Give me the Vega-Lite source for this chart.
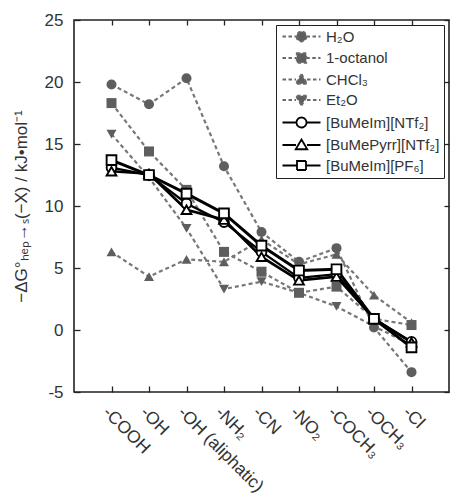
{
  "$schema": "https://vega.github.io/schema/vega-lite/v6.json",
  "width": 375,
  "height": 372,
  "autosize": {"type": "none"},
  "padding": {"left": 74, "top": 20, "right": 1, "bottom": 102},
  "background": "white",
  "config": {
    "view": {"stroke": "#222", "strokeWidth": 1.6},
    "font": "Liberation Sans",
    "axis": {"domain": false, "grid": false, "tickColor": "#222", "tickWidth": 1.3, "labelColor": "#333", "titleColor": "#333", "labelFont": "Liberation Sans", "titleFont": "Liberation Sans"},
    "legend": {"orient": "none", "legendX": 202, "legendY": 5, "strokeColor": "#222", "fillColor": "white", "padding": 4, "rowPadding": 3.5,
      "labelFontSize": 15, "labelColor": "#333", "labelFont": "Liberation Sans", "symbolSize": 100, "symbolOpacity": 1, "labelOffset": 31, "symbolOffset": 0}
  },
  "data": {
    "values": [
      {"group": "-COOH", "series": "H₂O", "value": 19.8},
      {"group": "-OH", "series": "H₂O", "value": 18.2},
      {"group": "-OH (aliphatic)", "series": "H₂O", "value": 20.3},
      {"group": "-NH₂", "series": "H₂O", "value": 13.2},
      {"group": "-CN", "series": "H₂O", "value": 7.9},
      {"group": "-NO₂", "series": "H₂O", "value": 5.5},
      {"group": "-COCH₃", "series": "H₂O", "value": 6.6},
      {"group": "-OCH₃", "series": "H₂O", "value": 0.2},
      {"group": "-Cl", "series": "H₂O", "value": -3.4},
      {"group": "-COOH", "series": "1-octanol", "value": 18.3},
      {"group": "-OH", "series": "1-octanol", "value": 14.4},
      {"group": "-OH (aliphatic)", "series": "1-octanol", "value": 11.3},
      {"group": "-NH₂", "series": "1-octanol", "value": 6.3},
      {"group": "-CN", "series": "1-octanol", "value": 4.7},
      {"group": "-NO₂", "series": "1-octanol", "value": 3.0},
      {"group": "-COCH₃", "series": "1-octanol", "value": 3.5},
      {"group": "-OCH₃", "series": "1-octanol", "value": 0.9},
      {"group": "-Cl", "series": "1-octanol", "value": 0.4},
      {"group": "-COOH", "series": "CHCl₃", "value": 6.3},
      {"group": "-OH", "series": "CHCl₃", "value": 4.3},
      {"group": "-OH (aliphatic)", "series": "CHCl₃", "value": 5.7},
      {"group": "-NH₂", "series": "CHCl₃", "value": 5.5},
      {"group": "-CN", "series": "CHCl₃", "value": 7.3},
      {"group": "-NO₂", "series": "CHCl₃", "value": 5.3},
      {"group": "-COCH₃", "series": "CHCl₃", "value": 6.1},
      {"group": "-OCH₃", "series": "CHCl₃", "value": 2.8},
      {"group": "-Cl", "series": "CHCl₃", "value": 0.6},
      {"group": "-COOH", "series": "Et₂O", "value": 15.8},
      {"group": "-OH", "series": "Et₂O", "value": 12.3},
      {"group": "-OH (aliphatic)", "series": "Et₂O", "value": 8.2},
      {"group": "-NH₂", "series": "Et₂O", "value": 3.3},
      {"group": "-CN", "series": "Et₂O", "value": 3.9},
      {"group": "-NO₂", "series": "Et₂O", "value": 3.0},
      {"group": "-COCH₃", "series": "Et₂O", "value": 1.9},
      {"group": "-OCH₃", "series": "Et₂O", "value": 0.3},
      {"group": "-Cl", "series": "Et₂O", "value": -1.2},
      {"group": "-COOH", "series": "[BuMeIm][NTf₂]", "value": 13.1},
      {"group": "-OH", "series": "[BuMeIm][NTf₂]", "value": 12.5},
      {"group": "-OH (aliphatic)", "series": "[BuMeIm][NTf₂]", "value": 10.2},
      {"group": "-NH₂", "series": "[BuMeIm][NTf₂]", "value": 8.7},
      {"group": "-CN", "series": "[BuMeIm][NTf₂]", "value": 6.3},
      {"group": "-NO₂", "series": "[BuMeIm][NTf₂]", "value": 4.2},
      {"group": "-COCH₃", "series": "[BuMeIm][NTf₂]", "value": 4.5},
      {"group": "-OCH₃", "series": "[BuMeIm][NTf₂]", "value": 0.9},
      {"group": "-Cl", "series": "[BuMeIm][NTf₂]", "value": -0.95},
      {"group": "-COOH", "series": "[BuMePyrr][NTf₂]", "value": 12.8},
      {"group": "-OH", "series": "[BuMePyrr][NTf₂]", "value": 12.6},
      {"group": "-OH (aliphatic)", "series": "[BuMePyrr][NTf₂]", "value": 9.7},
      {"group": "-NH₂", "series": "[BuMePyrr][NTf₂]", "value": 8.9},
      {"group": "-CN", "series": "[BuMePyrr][NTf₂]", "value": 5.9},
      {"group": "-NO₂", "series": "[BuMePyrr][NTf₂]", "value": 4.0},
      {"group": "-COCH₃", "series": "[BuMePyrr][NTf₂]", "value": 4.3},
      {"group": "-OCH₃", "series": "[BuMePyrr][NTf₂]", "value": 0.9},
      {"group": "-Cl", "series": "[BuMePyrr][NTf₂]", "value": -1.0},
      {"group": "-COOH", "series": "[BuMeIm][PF₆]", "value": 13.7},
      {"group": "-OH", "series": "[BuMeIm][PF₆]", "value": 12.5},
      {"group": "-OH (aliphatic)", "series": "[BuMeIm][PF₆]", "value": 11.0},
      {"group": "-NH₂", "series": "[BuMeIm][PF₆]", "value": 9.4},
      {"group": "-CN", "series": "[BuMeIm][PF₆]", "value": 6.8},
      {"group": "-NO₂", "series": "[BuMeIm][PF₆]", "value": 4.8},
      {"group": "-COCH₃", "series": "[BuMeIm][PF₆]", "value": 4.9},
      {"group": "-OCH₃", "series": "[BuMeIm][PF₆]", "value": 0.9},
      {"group": "-Cl", "series": "[BuMeIm][PF₆]", "value": -1.4}
    ]
  },
  "encoding": {
    "x": {"field": "group", "type": "ordinal", "sort": null,
      "scale": {"type": "point", "padding": 1}, "axis": null},
    "y": {"field": "value", "type": "quantitative",
      "scale": {"domain": [-5, 25], "nice": false, "zero": false}, "axis": null}
  },
  "layer": [
    {
      "transform": [{"filter": "indexof(['H₂O','1-octanol','CHCl₃','Et₂O'], datum.series) >= 0"}],
      "mark": {"type": "line", "color": "#777", "strokeWidth": 2.2, "strokeDash": [4, 3]},
      "encoding": {
        "detail": {"field": "series"},
        "x": {"field": "group", "type": "ordinal", "sort": null, "scale": {"type": "point", "padding": 1},
          "axis": {"orient": "bottom", "title": null, "labelAngle": 45, "labelAlign": "left", "labelBaseline": "top", "labelFontSize": 17.5, "tickSize": -6, "labelPadding": 17}},
        "y": {"field": "value", "type": "quantitative", "scale": {"domain": [-5, 25], "nice": false, "zero": false},
          "axis": {"orient": "left", "values": [-5, 0, 5, 10, 15, 20, 25], "labelExpr": "replace(datum.label, '−', '-')", "labelFontSize": 17, "tickSize": -6, "labelPadding": 17,
            "title": "−ΔG°ₕₑₚ→ₛ(−X) / kJ•mol⁻¹", "titleFontSize": 17, "titleFontWeight": "normal", "titleX": -53, "titleY": 186, "titleAngle": -90, "titleAlign": "center", "titleBaseline": "middle"}}
      }
    },
    {
      "transform": [{"filter": "indexof(['H₂O','1-octanol','CHCl₃','Et₂O'], datum.series) >= 0"}],
      "mark": {"type": "point", "filled": true, "opacity": 1, "size": 100, "color": "#5e5e5e"},
      "encoding": {
        "shape": {"field": "series", "type": "nominal", "legend": null,
          "scale": {"domain": ["H₂O", "1-octanol", "CHCl₃", "Et₂O"], "range": ["circle", "square", "triangle-up", "triangle-down"]}}
      }
    },
    {
      "transform": [{"filter": "indexof(['H₂O','1-octanol','CHCl₃','Et₂O'], datum.series) < 0"}],
      "mark": {"type": "line", "color": "black"},
      "encoding": {
        "detail": {"field": "series"},
        "strokeWidth": {"field": "series", "type": "nominal", "legend": null,
          "scale": {"domain": ["[BuMeIm][NTf₂]", "[BuMePyrr][NTf₂]", "[BuMeIm][PF₆]"], "range": [2.3, 3, 1.6]}},
        "x": {"field": "group", "type": "ordinal", "sort": null, "scale": {"type": "point", "padding": 1},
          "axis": {"orient": "top", "title": null, "labels": false, "tickSize": -5}},
        "y": {"field": "value", "type": "quantitative", "scale": {"domain": [-5, 25], "nice": false, "zero": false},
          "axis": {"orient": "right", "title": null, "labels": false, "values": [-5, 0, 5, 10, 15, 20, 25], "tickSize": -5}}
      }
    },
    {
      "transform": [{"filter": "indexof(['H₂O','1-octanol','CHCl₃','Et₂O'], datum.series) < 0"}],
      "mark": {"type": "point", "filled": false, "opacity": 1, "size": 95, "fill": "white", "stroke": "black", "strokeWidth": 1.9},
      "encoding": {
        "shape": {"field": "series", "type": "nominal", "legend": null,
          "scale": {"domain": ["[BuMeIm][NTf₂]", "[BuMePyrr][NTf₂]", "[BuMeIm][PF₆]"], "range": ["circle", "triangle-up", "square"]}}
      }
    },
    {
      "mark": {"type": "point", "opacity": 0, "size": 100},
      "encoding": {
        "shape": {"field": "series", "type": "nominal",
          "legend": {"title": null, "orient": "none", "legendX": 202, "legendY": 5, "symbolOpacity": 1},
          "scale": {"domain": ["H₂O", "1-octanol", "CHCl₃", "Et₂O", "[BuMeIm][NTf₂]", "[BuMePyrr][NTf₂]", "[BuMeIm][PF₆]"],
            "range": [
              "M-1,0H1.8M3.8,0H6.6M1.8,0A1,1,0,1,0,3.8,0A1,1,0,1,0,1.8,0Z",
              "M-1,0H1.85M3.75,0H6.6M1.85,-0.95H3.75V0.95H1.85Z",
              "M-1,0H1.7M3.9,0H6.6M2.8,-1.1L3.95,0.85H1.65Z",
              "M-1,0H1.7M3.9,0H6.6M2.8,1.1L3.95,-0.85H1.65Z",
              "M-1,0H1.8M3.8,0H6.6M1.8,0A1,1,0,1,0,3.8,0A1,1,0,1,0,1.8,0Z",
              "M-1,0H1.7M3.9,0H6.6M2.8,-1.1L3.95,0.85H1.65Z",
              "M-1,0H1.9M3.7,0H6.6M1.9,-0.9H3.7V0.9H1.9Z"
            ]}},
        "fill": {"field": "series", "type": "nominal", "legend": {"title": null, "orient": "none", "legendX": 202, "legendY": 5, "symbolOpacity": 1},
          "scale": {"domain": ["H₂O", "1-octanol", "CHCl₃", "Et₂O", "[BuMeIm][NTf₂]", "[BuMePyrr][NTf₂]", "[BuMeIm][PF₆]"],
            "range": ["#5e5e5e", "#5e5e5e", "#5e5e5e", "#5e5e5e", "white", "white", "white"]}},
        "stroke": {"field": "series", "type": "nominal", "legend": {"title": null, "orient": "none", "legendX": 202, "legendY": 5, "symbolOpacity": 1},
          "scale": {"domain": ["H₂O", "1-octanol", "CHCl₃", "Et₂O", "[BuMeIm][NTf₂]", "[BuMePyrr][NTf₂]", "[BuMeIm][PF₆]"],
            "range": ["#6a6a6a", "#6a6a6a", "#6a6a6a", "#6a6a6a", "black", "black", "black"]}},
        "strokeDash": {"field": "series", "type": "nominal", "legend": {"title": null, "orient": "none", "legendX": 202, "legendY": 5, "symbolOpacity": 1},
          "scale": {"domain": ["H₂O", "1-octanol", "CHCl₃", "Et₂O", "[BuMeIm][NTf₂]", "[BuMePyrr][NTf₂]", "[BuMeIm][PF₆]"],
            "range": [[3.5, 2.5], [3.5, 2.5], [3.5, 2.5], [3.5, 2.5], [1, 0], [1, 0], [1, 0]]}},
        "strokeWidth": {"field": "series", "type": "nominal", "legend": {"title": null, "orient": "none", "legendX": 202, "legendY": 5, "symbolOpacity": 1},
          "scale": {"domain": ["H₂O", "1-octanol", "CHCl₃", "Et₂O", "[BuMeIm][NTf₂]", "[BuMePyrr][NTf₂]", "[BuMeIm][PF₆]"],
            "range": [1.8, 1.8, 1.8, 1.8, 2.1, 2.7, 1.6]}}
      }
    }
  ],
  "resolve": {"axis": {"x": "independent", "y": "independent"},
    "scale": {"shape": "independent", "strokeWidth": "independent", "fill": "independent", "stroke": "independent", "strokeDash": "independent"}}
}
